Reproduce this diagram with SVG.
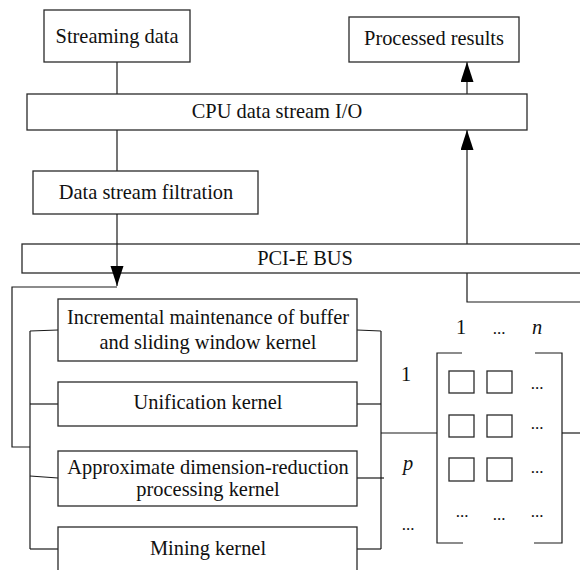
<svg xmlns="http://www.w3.org/2000/svg" width="580" height="570" viewBox="0 0 580 570">
  <style>
    .box { fill: #ffffff; stroke: #2a2a2a; stroke-width: 1.3; }
    .wire { fill: none; stroke: #1a1a1a; stroke-width: 1.2; }
    .cell { fill: none; stroke: #2a2a2a; stroke-width: 1.3; }
    text { font-family: "Liberation Serif", "Times New Roman", serif; font-size: 20.4px; fill: #111; text-anchor: middle; }
    .it { font-style: italic; }
    .dots { font-size: 17px; }
  </style>
  <defs>
    <marker id="arrow" markerUnits="userSpaceOnUse" markerWidth="21" markerHeight="14" refX="20" refY="6.5" orient="auto">
      <path d="M0,0 L20,6.5 L0,13 Z" fill="#000"/>
    </marker>
  </defs>

  <rect width="580" height="570" fill="#ffffff"/>

  <!-- connectors drawn under the boxes -->
  <g id="connectors">
    <!-- streaming data down to CPU I/O -->
    <line class="wire" x1="117" y1="62" x2="117" y2="94"/>
    <!-- CPU I/O down to filtration -->
    <line class="wire" x1="117" y1="130" x2="117" y2="171"/>
    <!-- CPU I/O up to processed results -->
    <line class="wire" x1="467" y1="94" x2="467" y2="62" marker-end="url(#arrow)"/>
    <!-- PCI-E bus up to CPU I/O -->
    <line class="wire" x1="467" y1="244" x2="467" y2="130" marker-end="url(#arrow)"/>
    <!-- return path from the kernel side into the bus -->
    <polyline class="wire" points="580,302 467,302 467,273"/>
    <!-- left distribution bracket -->
    <polyline class="wire" points="117,287 12,287 12,447 30,447"/>
    <line class="wire" x1="30" y1="331" x2="30" y2="549"/>
    <line class="wire" x1="30" y1="331" x2="58" y2="330"/>
    <line class="wire" x1="30" y1="404" x2="58" y2="404"/>
    <line class="wire" x1="30" y1="476" x2="58" y2="478"/>
    <line class="wire" x1="30" y1="549" x2="58" y2="549"/>
    <!-- right collection bracket -->
    <line class="wire" x1="381" y1="331" x2="381" y2="549"/>
    <line class="wire" x1="357" y1="330" x2="381" y2="331"/>
    <line class="wire" x1="357" y1="404" x2="381" y2="404"/>
    <line class="wire" x1="357" y1="478" x2="384" y2="478"/>
    <line class="wire" x1="357" y1="549" x2="381" y2="549"/>
    <!-- links to the matrix -->
    <line class="wire" x1="381" y1="433" x2="437" y2="433"/>
    <line class="wire" x1="562" y1="433" x2="580" y2="433"/>
  </g>

  <g id="streaming-data">
    <rect class="box" x="44" y="10" width="146" height="52"/>
    <text x="117" y="43">Streaming data</text>
  </g>

  <g id="processed-results">
    <rect class="box" x="349" y="17" width="170" height="45"/>
    <text x="434" y="45">Processed results</text>
  </g>

  <g id="cpu-io">
    <rect class="box" x="27" y="94" width="500" height="36"/>
    <text x="277" y="118">CPU data stream I/O</text>
  </g>

  <g id="filtration">
    <rect class="box" x="33" y="171" width="225" height="43"/>
    <text x="146" y="199">Data stream filtration</text>
  </g>

  <g id="pcie-bus">
    <rect class="box" x="22" y="244" width="570" height="29"/>
    <text x="305" y="265">PCI-E BUS</text>
    <!-- filtered stream passes through the bus to the kernels -->
    <line class="wire" x1="117" y1="214" x2="117" y2="286" marker-end="url(#arrow)"/>
  </g>

  <g id="kernel-incremental">
    <rect class="box" x="58" y="299" width="299" height="62"/>
    <text x="208" y="324">Incremental maintenance of buffer</text>
    <text x="208" y="349">and sliding window kernel</text>
  </g>

  <g id="kernel-unification">
    <rect class="box" x="58" y="382" width="299" height="44"/>
    <text x="208" y="409">Unification kernel</text>
  </g>

  <g id="kernel-reduction">
    <rect class="box" x="58" y="451" width="299" height="55"/>
    <text x="208" y="474">Approximate dimension-reduction</text>
    <text x="208" y="496">processing kernel</text>
  </g>

  <g id="kernel-mining">
    <rect class="box" x="58" y="527" width="299" height="60"/>
    <text x="208" y="555">Mining kernel</text>
  </g>

  <g id="matrix">
    <!-- brackets -->
    <polyline class="wire" points="462,353 437,353 437,543 463,543"/>
    <polyline class="wire" points="535,353 562,353 562,543 534,543"/>
    <!-- column labels -->
    <text x="461" y="334">1</text>
    <text class="dots" x="499" y="334">...</text>
    <text class="it" x="537" y="334">n</text>
    <!-- row labels -->
    <text x="406" y="381">1</text>
    <text class="it" x="408" y="470">p</text>
    <text class="dots" x="408" y="530">...</text>
    <!-- cells -->
    <rect class="cell" x="449" y="371" width="25" height="22"/>
    <rect class="cell" x="487" y="371" width="25" height="22"/>
    <rect class="cell" x="449" y="415" width="25" height="22"/>
    <rect class="cell" x="487" y="415" width="25" height="22"/>
    <rect class="cell" x="449" y="458" width="25" height="23"/>
    <rect class="cell" x="487" y="458" width="25" height="23"/>
    <text class="dots" x="537" y="389">...</text>
    <text class="dots" x="537" y="429">...</text>
    <text class="dots" x="537" y="473">...</text>
    <text class="dots" x="462" y="517">...</text>
    <text class="dots" x="499" y="520">...</text>
    <text class="dots" x="537" y="517">...</text>
  </g>
</svg>
